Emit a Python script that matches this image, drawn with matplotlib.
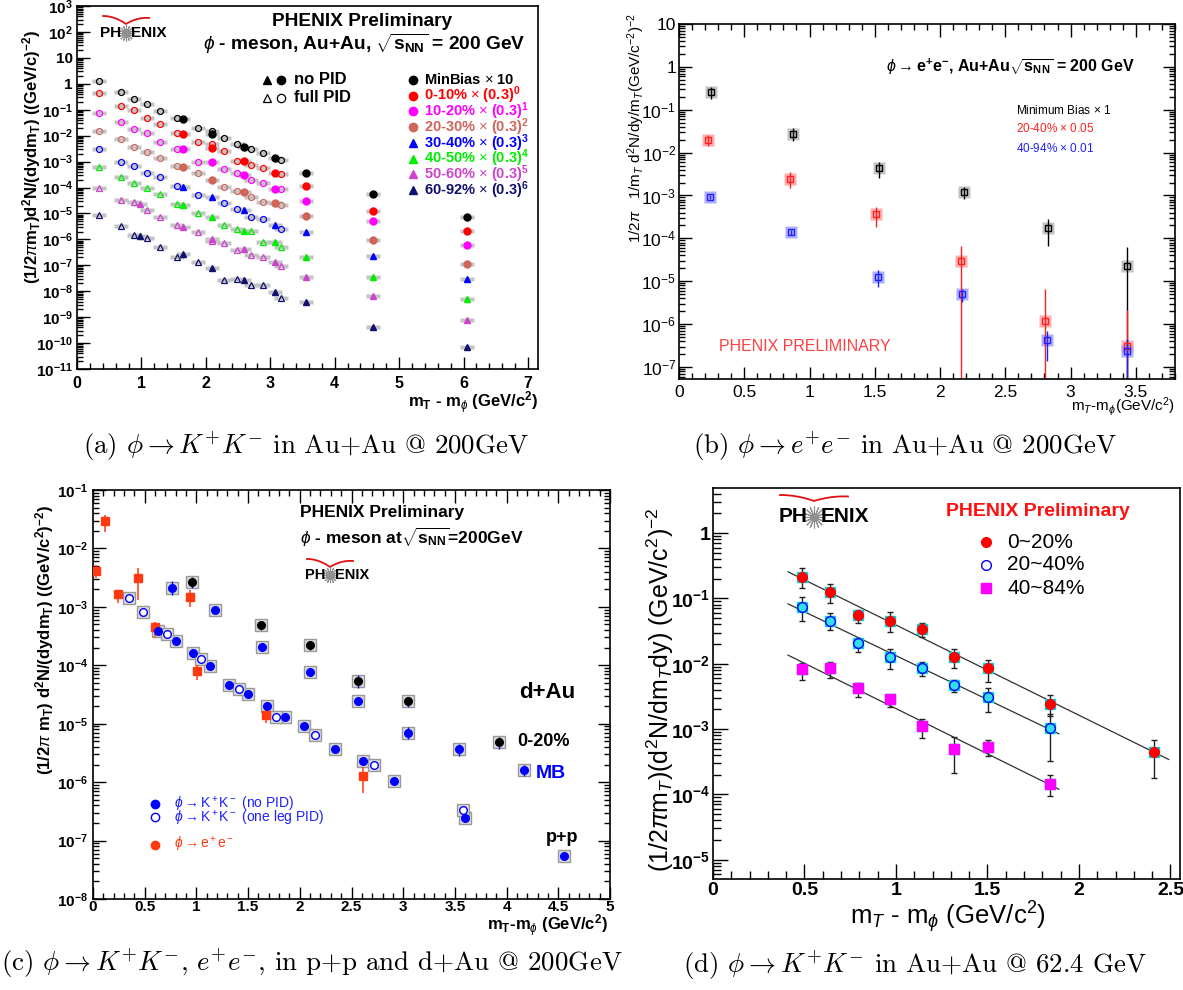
import numpy as np
import matplotlib
matplotlib.use('Agg')
import matplotlib.pyplot as plt
from matplotlib.lines import Line2D
from matplotlib.path import Path
from matplotlib.markers import MarkerStyle

plt.rcParams['font.family'] = ['Liberation Sans', 'DejaVu Sans']
plt.rcParams['mathtext.fontset'] = 'custom'
plt.rcParams['mathtext.rm'] = 'Liberation Sans'
plt.rcParams['mathtext.it'] = 'Liberation Sans:italic'
plt.rcParams['mathtext.bf'] = 'Liberation Sans:bold'
plt.rcParams['mathtext.sf'] = 'Liberation Sans'

nan = np.nan
# ---------------- panel (a): phi -> KK, Au+Au 200 GeV ----------------
a_x_full = [0.34, 0.68, 0.89, 1.09, 1.29, 1.55, 1.88, 2.09, 2.28, 2.48, 2.70, 2.89, 3.16]
a_x_nopid = [1.65, 2.09, 2.59, 3.07, 3.55, 4.59, 6.06]
a_x_nopid_periph = [0.98, 1.65, 2.09, 2.59, 3.07, 3.55, 4.59, 6.06]
mb_full = [1.28, 0.48, 0.27, 0.16, 0.089, 0.047, 0.019, 0.015, 0.0079, 0.0046, 0.0030, 0.0021, 0.00115]
mb_nopid = [0.043, 0.0112, 0.0038, 0.00134, 3.7e-4, 5.5e-5, 7.5e-6]
c0010_full = [0.455, 0.139, 0.098, 0.047, 0.028, 0.0123, 0.0059, 0.0049, 0.0026, 0.00105, 7.4e-4, 5.5e-4, 3.3e-4]
c0010_nopid = [0.0116, 0.0033, 0.00109, 3.5e-4, 1.15e-4, 1.28e-5, 2.1e-6]
c1020_full = [0.073, 0.035, 0.0186, 0.0131, 0.0057, 0.0030, 9.9e-4, nan, 5.0e-4, 3.5e-4, 1.95e-4, 1.45e-4, 8.8e-5]
c1020_nopid = [0.0030, 9.4e-4, 3.0e-4, 8.8e-5, 3.0e-5, 5.0e-6, 6.3e-7]
c2030_full = [0.0156, 0.0072, 0.0038, 0.0024, 0.00134, 7.0e-4, 3.5e-4, nan, 1.02e-4, 7.6e-5, 4.4e-5, 2.7e-5, 2.1e-5]
c2030_nopid = [6.4e-4, 1.95e-4, 6.5e-5, 2.6e-5, 8.2e-6, 9.2e-7, 1.12e-7]
c3040_full = [0.0031, 9.9e-4, 7.0e-4, 3.7e-4, 2.5e-4, 1.18e-4, 5.2e-5, nan, 2.5e-5, 1.44e-5, 7.1e-6, 5.9e-6, 2.6e-6]
c3040_nopid = [1.08e-4, 4.4e-5, 1.36e-5, 3.7e-6, 1.93e-6, 2.3e-7, 2.9e-8]
c4050_full = [6.4e-4, 2.6e-4, 1.54e-4, 9.3e-5, 5.6e-5, 2.3e-5, 1.01e-5, nan, 3.5e-6, 2.44e-6, 2.1e-6, 7.7e-7, 4.9e-7]
c4050_nopid = [2.1e-5, 7.5e-6, 2.05e-6, 7.7e-7, 2.1e-7, 3.4e-8, 4.9e-9]
c5060_full = [9.3e-5, 3.3e-5, 2.7e-5, 1.32e-5, 7.1e-6, 3.6e-6, 1.87e-6, 8.7e-7, 7.5e-7, 3.9e-7, 2.5e-7, 2.03e-7, 9.7e-8]
c5060_nopid = [2.3e-5, 3.1e-6, 1.0e-6, 4.4e-7, 1.31e-7, 3.4e-8, 6.6e-9, 7.8e-10]
c6092_full = [8.7e-6, 3.3e-6, 1.52e-6, 1.10e-6, 4.9e-7, 2.03e-7, 1.31e-7, nan, 2.7e-8, 2.9e-8, 1.75e-8, 1.75e-8, 5.5e-9]
c6092_nopid = [1.39e-6, 2.65e-7, 7.7e-8, 2.7e-8, 9.4e-9, 3.7e-9, 4.3e-10, 7.3e-11]
a_labels = ['MinBias', '0-10%', '10-20%', '20-30%', '30-40%', '40-50%', '50-60%', '60-92%']
a_scale = ['10', '(0.3)$^{\\mathbf{0}}$', '(0.3)$^{\\mathbf{1}}$', '(0.3)$^{\\mathbf{2}}$',
           '(0.3)$^{\\mathbf{3}}$', '(0.3)$^{\\mathbf{4}}$', '(0.3)$^{\\mathbf{5}}$', '(0.3)$^{\\mathbf{6}}$']

# ---------------- panel (b): phi -> ee, Au+Au 200 GeV ----------------
b_x_mb = [0.243, 0.874, 1.533, 2.183, 2.827, 3.434]
b_y_mb = [0.253, 0.0274, 0.00432, 0.00121, 1.74e-4, 2.30e-5]
b_hi_mb = [0.337, 0.0385, 0.00618, 0.00161, 2.88e-4, 6.4e-5]
b_lo_mb = [0.177, 0.0182, 0.00252, 8.1e-4, 6.6e-5, 1e-9]
b_x_2040 = [0.223, 0.854, 1.512, 2.157, 2.804, 3.429]
b_y_2040 = [0.0198, 0.00243, 3.64e-4, 2.95e-5, 1.17e-6, 3.05e-7]
b_hi_2040 = [0.026, 0.0035, 5.5e-4, 6.6e-5, 6.7e-6, 2.1e-6]
b_lo_2040 = [0.0139, 0.00147, 1.8e-4, 1e-9, 1e-9, 1e-9]
b_x_4094 = [0.238, 0.859, 1.521, 2.168, 2.822, 3.429]
b_y_4094 = [9.4e-4, 1.38e-4, 1.25e-5, 5.0e-6, 4.2e-7, 2.33e-7]
b_hi_4094 = [1.05e-3, 1.6e-4, 1.8e-5, 6.7e-6, 7.0e-7, 4.4e-7]
b_lo_4094 = [8.4e-4, 1.2e-4, 7.2e-6, 3.3e-6, 1.39e-7, 1e-9]
b_labels = ['Minimum Bias $\\times$ 1', '20-40% $\\times$ 0.05', '40-94% $\\times$ 0.01']

# ---------------- panel (c): p+p and d+Au 200 GeV ----------------
c_pp_nopid_x = [0.633, 0.80, 0.966, 1.132, 1.317, 1.502, 1.68, 1.857, 2.045, 2.337, 2.615, 2.907, 3.60, 4.553]
c_pp_nopid_y = [3.9e-4, 2.63e-4, 1.60e-4, 9.7e-5, 4.58e-5, 3.21e-5, 2.03e-5, 1.31e-5, 9.2e-6, 3.67e-6, 2.32e-6, 1.05e-6, 2.48e-7, 5.5e-8]
c_pp_pid_x = [0.348, 0.485, 0.714, 1.04, 1.41, 1.768, 2.149, 2.715, 3.58]
c_pp_pid_y = [1.43e-3, 8.1e-4, 3.42e-4, 1.28e-4, 4.0e-5, 1.31e-5, 6.5e-6, 1.95e-6, 3.4e-7]
c_ee_x = [0.03, 0.115, 0.245, 0.44, 0.596, 0.936, 1.003, 1.675, 2.61]
c_ee_y = [0.0041, 0.0294, 0.00164, 0.00315, 4.56e-4, 0.00147, 7.96e-5, 1.40e-5, 1.27e-6]
c_ee_hi = [0.0052, 0.0373, 0.00194, 0.00468, 5.56e-4, 0.00194, 1.0e-4, 1.71e-5, 1.83e-6]
c_ee_lo = [0.00308, 0.0193, 0.00115, 0.00131, 3.08e-4, 0.001, 5.6e-5, 1.01e-5, 6.6e-7]
c_dau_mb_x = [0.763, 1.177, 1.632, 2.101, 2.563, 3.048, 3.535, 4.165]
c_dau_mb_y = [2.07e-3, 8.8e-4, 2.05e-4, 7.55e-5, 2.47e-5, 6.98e-6, 3.62e-6, 1.60e-6]
c_dau_mb_hi = [2.77e-3, 9.5e-4, 2.2e-4, 8.6e-5, 2.8e-5, 8.65e-6, 4.57e-6, 2.0e-6]
c_dau_mb_lo = [1.59e-3, 8.0e-4, 1.9e-4, 6.6e-5, 2.15e-5, 5.4e-6, 2.76e-6, 1.27e-6]
c_dau_020_x = [0.959, 1.628, 2.101, 2.563, 3.048, 3.924]
c_dau_020_y = [2.69e-3, 4.88e-4, 2.22e-4, 5.43e-5, 2.44e-5, 4.79e-6]
c_dau_020_hi = [3.27e-3, 5.8e-4, 2.6e-4, 6.8e-5, 2.88e-5, 6.0e-6]
c_dau_020_lo = [2.12e-3, 4.0e-4, 1.82e-4, 4.1e-5, 1.95e-5, 3.67e-6]

# ---------------- panel (d): Au+Au 62.4 GeV ----------------
d_x = [0.486, 0.637, 0.795, 0.968, 1.140, 1.317, 1.502, 1.841, 2.41]
d_y_020 = [0.214, 0.126, 0.0555, 0.0449, 0.0339, 0.0128, 0.00848, 0.00243, 4.48e-4]
d_hi_020 = [0.288, 0.166, 0.0662, 0.061, 0.0414, 0.0167, 0.0114, 0.0033, 6.9e-4]
d_lo_020 = [0.142, 0.0857, 0.0414, 0.0301, 0.0259, 0.00867, 0.00517, 0.00159, 1.79e-4]
d_y_2040 = [0.0744, 0.0454, 0.0209, 0.0125, 0.00867, 0.0047, 0.00311, 0.00102]
d_hi_2040 = [0.106, 0.0589, 0.025, 0.0167, 0.0107, 0.0056, 0.00427, 0.00167]
d_lo_2040 = [0.0449, 0.0327, 0.0152, 0.00827, 0.00653, 0.0037, 0.00184, 3.2e-4]
d_y_4084 = [0.00827, 0.00848, 0.00418, 0.00287, 0.00112, 5.0e-4, 5.3e-4, 1.42e-4]
d_hi_4084 = [0.0101, 0.0107, 0.00499, 0.0033, 0.00142, 7.6e-4, 6.8e-4, 1.97e-4]
d_lo_4084 = [0.0056, 0.00594, 0.00311, 0.00219, 7.2e-4, 2.09e-4, 3.9e-4, 9.5e-5]
d_fit_020 = [0.41, 2.49]
d_fit_2040 = [0.41, 1.89]
d_fit_4084 = [0.41, 1.89]
d_labels = ['0~20%', '20~40%', '40~84%']

# ====================================================================
W, H = 1183, 990
fig = plt.figure(figsize=(W / 100, H / 100), dpi=100)


def axes_px(l, t, r, b):
    return fig.add_axes([l / W, 1 - b / H, (r - l) / W, (b - t) / H])


def ftext(x, y, s, **kw):
    return fig.text(x / W, 1 - y / H, s, **kw)


def fmark(x, y, **kw):
    fig.add_artist(Line2D([x / W], [1 - y / H], transform=fig.transFigure, ls='none', **kw))


def fline(xs, ys, **kw):
    fig.add_artist(Line2D(np.asarray(xs) / W, 1 - np.asarray(ys) / H, transform=fig.transFigure, **kw))


def logo(xs, y, size, arc_w, arc_h, top_off):
    ftext(xs - size * 0.45, y, 'PH', ha='right', va='center', fontsize=size, fontweight='bold')
    ftext(xs + size * 0.45, y, 'ENIX', ha='left', va='center', fontsize=size, fontweight='bold')
    fmark(xs, y, marker=(16, 2, 0), ms=size * 1.05, color='#909090', mew=0.8)
    t = np.linspace(-1, 1, 80)
    axx = xs + t * arc_w
    ayy = (y - top_off) + arc_h * (1 - np.abs(t)) ** 2 + 0.25 * arc_h * (t > 0) * t
    fline(axx, ayy, color='#e01010', lw=1.3)


def root_ticks(ax, top=True, right=True, major=10, minor=5):
    ax.tick_params(which='both', direction='in', top=top, right=right, width=1.0)
    ax.tick_params(which='major', length=major)
    ax.tick_params(which='minor', length=minor)
    for s in ax.spines.values():
        s.set_linewidth(1.2)


def log_ticks(ax, lo, hi, bold=True, size=11):
    exps = list(range(lo, hi + 1))
    ax.set_yticks([10.0 ** e for e in exps])
    labs = []
    for e in exps:
        if e == 0:
            labs.append('1')
        elif e == 1:
            labs.append('10')
        elif bold:
            labs.append('10$^{\\mathbf{%d}}$' % e)
        else:
            labs.append('10$^{%d}$' % e)
    ax.set_yticklabels(labs, fontsize=size, fontweight='bold' if bold else 'normal')
    ax.set_yticks([m * 10.0 ** e for e in range(lo - 1, hi + 1) for m in range(2, 10)], minor=True)
    ax.yaxis.set_minor_formatter(plt.NullFormatter())


def lin_ticks(ax, ticks, labels, minor, bold=True, size=11):
    ax.set_xticks(ticks)
    ax.set_xticklabels(labels, fontsize=size, fontweight='bold' if bold else 'normal')
    ax.set_xticks(minor, minor=True)


rect = MarkerStyle(Path([(-1, -0.32), (1, -0.32), (1, 0.32), (-1, 0.32), (-1, -0.32)],
                        [Path.MOVETO, Path.LINETO, Path.LINETO, Path.LINETO, Path.CLOSEPOLY]))

cap_kw = dict(fontsize=19.4, family=['cmr10', 'DejaVu Serif'], math_fontfamily='cm', ha='center', va='center')

# ---------------------------- (a) ----------------------------
axa = axes_px(77, 6, 538, 369)
axa.set_yscale('log')
root_ticks(axa, top=False, right=False, major=9, minor=4)
log_ticks(axa, -11, 3, bold=True, size=11)
lin_ticks(axa, range(8), [str(i) for i in range(8)], np.arange(0, 7.2, 0.2), bold=True, size=11.5)
axa.set_xlim(0, 7.155)
axa.set_ylim(1e-11, 1e3)
axa.tick_params(axis='x', pad=5)
axa.tick_params(axis='y', pad=3)

a_colors = ['#000000', '#ff0000', '#ff00ff', '#d0655a', '#0000ff', '#00ee00', '#cc44cc', '#10106e']
a_full = [mb_full, c0010_full, c1020_full, c2030_full, c3040_full, c4050_full, c5060_full, c6092_full]
a_nopid = [mb_nopid, c0010_nopid, c1020_nopid, c2030_nopid, c3040_nopid, c4050_nopid, c5060_nopid, c6092_nopid]
a_xnp = [a_x_nopid] * 6 + [a_x_nopid_periph] * 2
for i in range(8):
    omk = 'o' if i < 5 else '^'
    fmk = 'o' if i < 4 else '^'
    axa.plot(a_x_full, a_full[i], ls='none', marker=rect, ms=10, mfc='#c4c4c4', mec='none', zorder=1)
    axa.plot(a_xnp[i], a_nopid[i], ls='none', marker=rect, ms=10, mfc='#c4c4c4', mec='none', zorder=1)
    axa.plot(a_x_full, a_full[i], ls='none', marker=omk, ms=4.3, mfc='none', mec=a_colors[i], mew=0.9, zorder=3)
    axa.plot(a_xnp[i], a_nopid[i], ls='none', marker=fmk, ms=5, mfc=a_colors[i], mec=a_colors[i], zorder=4)

ftext(362, 22, 'PHENIX Preliminary', ha='center', va='center', fontsize=13.8, fontweight='bold')
ftext(364, 44, '$\\phi$ - meson, Au+Au, $\\sqrt{\\mathbf{s}_{\\mathbf{NN}}}$ = 200 GeV', ha='center', va='center',
      fontsize=13.8, fontweight='bold')
logo(126, 33, 11, 23, 8, 17)
fmark(267, 80, marker='^', ms=6, color='k')
fmark(281, 80, marker='o', ms=6, color='k')
fmark(267, 98, marker='^', ms=6, mfc='none', mec='k', mew=0.9)
fmark(281, 98, marker='o', ms=6, mfc='none', mec='k', mew=0.9)
ftext(294, 80, 'no PID', va='center', fontsize=12, fontweight='bold')
ftext(294, 98, 'full PID', va='center', fontsize=12, fontweight='bold')
for i in range(8):
    yy = 80 + 15.7 * i
    fmark(413, yy, marker='o' if i < 4 else '^', ms=6, color=a_colors[i])
    ftext(424, yy, a_labels[i] + ' $\\times$ ' + a_scale[i], va='center', fontsize=10.5, fontweight='bold',
          color=a_colors[i])
ftext(32, 157, '(1/2$\\pi$m$_{\\mathbf{T}}$)d$^{\\mathbf{2}}$N/(dydm$_{\\mathbf{T}}$) ((GeV/c)$^{\\mathbf{-2}}$)',
      rotation=90, ha='center', va='center', fontsize=12, fontweight='bold')
ftext(538, 403, 'm$_{\\mathbf{T}}$ - m$_{\\phi}$ (GeV/c$^{\\mathbf{2}}$)', ha='right', va='center',
      fontsize=12, fontweight='bold')
ftext(306, 447, '(a) $\\phi \\rightarrow K^{+}K^{-}$ in Au+Au @ 200GeV', **cap_kw)

# ---------------------------- (b) ----------------------------
axb = axes_px(679, 24, 1175, 379)
axb.set_yscale('log')
root_ticks(axb, major=9, minor=4)
log_ticks(axb, -7, 1, bold=False, size=12.5)
lin_ticks(axb, np.arange(0, 3.6, 0.5), ['0', '0.5', '1', '1.5', '2', '2.5', '3', '3.5'],
          np.arange(0, 3.81, 0.1), bold=False, size=12.5)
axb.set_xlim(0, 3.8)
axb.set_ylim(10 ** -7.28, 10)
axb.tick_params(axis='x', pad=4)
axb.tick_params(axis='y', pad=2)
b_sets = [(b_x_mb, b_y_mb, b_hi_mb, b_lo_mb, '#000000', '#b4b4b4'),
          (b_x_2040, b_y_2040, b_hi_2040, b_lo_2040, '#ff2020', '#ff9a9a'),
          (b_x_4094, b_y_4094, b_hi_4094, b_lo_4094, '#2020ff', '#9a9aff')]
for bx, by, bh, bl, col, box in b_sets:
    axb.vlines(bx, bl, bh, color=col, lw=1.0, zorder=2)
    axb.plot(bx, by, ls='none', marker='s', ms=8, mfc=box, mec='none', alpha=0.8, zorder=1)
    axb.plot(bx, by, ls='none', marker='s', ms=5, mfc='none', mec=col, mew=1.0, zorder=3)
ftext(886, 67, '$\\phi\\rightarrow$e$^{\\mathbf{+}}$e$^{\\mathbf{-}}$, Au+Au$\\sqrt{\\mathbf{s}_{\\mathbf{NN}}}$ = 200 GeV',
      va='center', fontsize=11.5, fontweight='bold')
for lab, col, yy in zip(b_labels, ['#000000', '#ff2020', '#2020ff'], [110, 128, 148]):
    ftext(1016, yy, lab, va='center', fontsize=8.5, color=col)
ftext(719, 347, 'PHENIX PRELIMINARY', va='center', fontsize=11.5, color='#ff4040')
ftext(636, 128, '1/2$\\pi$   1/m$_T$ d$^2$N/dy/m$_T$(GeV/c$^{-2}$)$^{-2}$', rotation=90, ha='center',
      va='center', fontsize=11)
ftext(1175, 407, 'm$_T$-m$_\\phi$(GeV/c$^2$)', ha='right', va='center', fontsize=11)
ftext(905, 447, '(b) $\\phi \\rightarrow e^{+}e^{-}$ in Au+Au @ 200GeV', **cap_kw)

# ---------------------------- (c) ----------------------------
axc = axes_px(93, 490, 610, 899)
axc.set_yscale('log')
root_ticks(axc, major=9, minor=4)
log_ticks(axc, -8, -1, bold=True, size=11)
lin_ticks(axc, np.arange(0, 5.01, 0.5), ['0', '0.5', '1', '1.5', '2', '2.5', '3', '3.5', '4', '4.5', '5'],
          np.arange(0, 5.01, 0.1), bold=True, size=11)
axc.set_xlim(0, 5)
axc.set_ylim(1e-8, 1e-1)
axc.tick_params(axis='x', pad=1)
box_kw = dict(ls='none', marker='s', ms=8.5, mfc='#dcdcdc', mec='#9a9a9a', mew=1.0, zorder=1)
for bx, by in [(c_pp_nopid_x, c_pp_nopid_y), (c_pp_pid_x, c_pp_pid_y), (c_dau_mb_x, c_dau_mb_y),
               (c_dau_020_x, c_dau_020_y)]:
    axc.plot(bx, by, **box_kw)
c_ee_col = '#ff3a10'
axc.vlines(c_ee_x, c_ee_lo, c_ee_hi, color=c_ee_col, lw=1.1, zorder=2)
axc.plot(c_ee_x, c_ee_y, ls='none', marker='s', ms=6, color=c_ee_col, zorder=3)
axc.vlines(c_dau_mb_x, c_dau_mb_lo, c_dau_mb_hi, color='#0000ff', lw=1.0, zorder=2)
axc.vlines(c_dau_020_x, c_dau_020_lo, c_dau_020_hi, color='#0000ff', lw=1.0, zorder=2)
axc.plot(c_dau_mb_x, c_dau_mb_y, ls='none', marker='o', ms=5.5, color='#0000ff', zorder=3)
axc.plot(c_dau_020_x, c_dau_020_y, ls='none', marker='o', ms=5.5, color='#000000', zorder=3)
axc.plot(c_pp_nopid_x, c_pp_nopid_y, ls='none', marker='o', ms=5.5, color='#0000ff', zorder=3)
axc.plot(c_pp_pid_x, c_pp_pid_y, ls='none', marker='o', ms=5.5, mfc='white', mec='#0000ff', mew=1.0, zorder=3)
ftext(300, 513, 'PHENIX Preliminary', va='center', fontsize=12.5, fontweight='bold')
ftext(300, 537, '$\\phi$ - meson at$\\sqrt{\\mathbf{s}_{\\mathbf{NN}}}$=200GeV', va='center', fontsize=12.5,
      fontweight='bold')
logo(330, 575, 10.5, 23, 8, 16)
ftext(519, 693, 'd+Au', va='center', fontsize=16, fontweight='bold')
ftext(517, 741, '0-20%', va='center', fontsize=13, fontweight='bold')
ftext(536, 774, 'MB', va='center', fontsize=14, fontweight='bold', color='#0000ff')
ftext(546, 838, 'p+p', va='center', fontsize=13, fontweight='bold')
fmark(155, 804, marker='o', ms=6, color='#0000ff')
fmark(155, 817, marker='o', ms=6, mfc='white', mec='#0000ff', mew=1)
fmark(155, 845, marker='o', ms=6, color=c_ee_col)
ftext(174, 804, '$\\phi\\rightarrow$K$^+$K$^-$ (no PID)', va='center', fontsize=10, color='#2020ff')
ftext(174, 818, '$\\phi\\rightarrow$K$^+$K$^-$ (one leg PID)', va='center', fontsize=10, color='#2020ff')
ftext(174, 845, '$\\phi\\rightarrow$e$^+$e$^-$', va='center', fontsize=10, color=c_ee_col)
ftext(45, 640, '(1/2$\\pi$ m$_{\\mathbf{T}}$) d$^{\\mathbf{2}}$N/(dydm$_{\\mathbf{T}}$) ((GeV/c$^{\\mathbf{2}}$)$^{\\mathbf{-2}}$)',
      rotation=90, ha='center', va='center', fontsize=12, fontweight='bold')
ftext(608, 926, 'm$_{\\mathbf{T}}$-m$_{\\phi}$ (GeV/c$^{\\mathbf{2}}$)', ha='right', va='center',
      fontsize=12, fontweight='bold')
ftext(312, 964, '(c) $\\phi \\rightarrow K^{+}K^{-}$, $e^{+}e^{-}$, in p+p and d+Au @ 200GeV', **cap_kw)

# ---------------------------- (d) ----------------------------
axd = axes_px(713, 488, 1180, 879)
axd.set_yscale('log')
root_ticks(axd, top=False, right=False, major=11, minor=6)
log_ticks(axd, -5, 0, bold=True, size=14)
lin_ticks(axd, np.arange(0, 2.51, 0.5), ['0', '0.5', '1', '1.5', '2', '2.5'], np.arange(0, 2.55, 0.1),
          bold=True, size=14)
axd.set_xlim(0, 2.552)
axd.set_ylim(10 ** -5.296, 10 ** 0.689)
axd.tick_params(axis='x', pad=2)
axd.tick_params(axis='y', pad=2)
d_sets = [(d_x, d_y_020, d_hi_020, d_lo_020, d_fit_020),
          (d_x[:8], d_y_2040, d_hi_2040, d_lo_2040, d_fit_2040),
          (d_x[:8], d_y_4084, d_hi_4084, d_lo_4084, d_fit_4084)]
for dx, dy, dh, dl, fr in d_sets:
    dx = np.asarray(dx)
    dy = np.asarray(dy)
    axd.errorbar(dx, dy, yerr=[dy - np.asarray(dl), np.asarray(dh) - dy], fmt='none', ecolor='#202020',
                 elinewidth=1.0, capsize=2.5, zorder=2)
    axd.plot(dx, dy, ls='none', marker='s', ms=6.5, color='#00d8e0', zorder=3)
    p = np.polyfit(dx, np.log10(dy), 1)
    xf = np.linspace(fr[0], fr[1], 50)
    axd.plot(xf, 10 ** np.polyval(p, xf), color='#303030', lw=0.9, zorder=2)
axd.plot(d_x, d_y_020, ls='none', marker='o', ms=7, color='#ff0000', zorder=4)
axd.plot(d_x[:8], d_y_2040, ls='none', marker='o', ms=7, mfc='#30e0f0', mec='#0000ff', mew=1.0, zorder=4)
axd.plot(d_x[:8], d_y_4084, ls='none', marker='s', ms=7, color='#ff00ff', zorder=4)
logo(814, 517, 15, 34, 6, 22)
ftext(946, 511, 'PHENIX Preliminary', va='center', fontsize=14, fontweight='bold', color='#ff1010')
fmark(986, 542, marker='o', ms=7, color='#ff0000')
fmark(986, 565, marker='o', ms=7, mfc='none', mec='#0000ff', mew=1.0)
fmark(986, 588, marker='s', ms=7, color='#ff00ff')
for lab, yy in zip(d_labels, [542, 565, 588]):
    ftext(1007, yy, lab, va='center', fontsize=15)
ftext(660, 690, '(1/2$\\pi$m$_T$)(d$^2$N/dm$_T$dy) (GeV/c$^2$)$^{-2}$', rotation=90, ha='center',
      va='center', fontsize=18)
ftext(948, 917, 'm$_T$ - m$_\\phi$ (GeV/c$^2$)', ha='center', va='center', fontsize=18.5)
ftext(915, 966, '(d) $\\phi \\rightarrow K^{+}K^{-}$ in Au+Au @ 62.4 GeV', **cap_kw)

fig.savefig('out.png', dpi=100)
